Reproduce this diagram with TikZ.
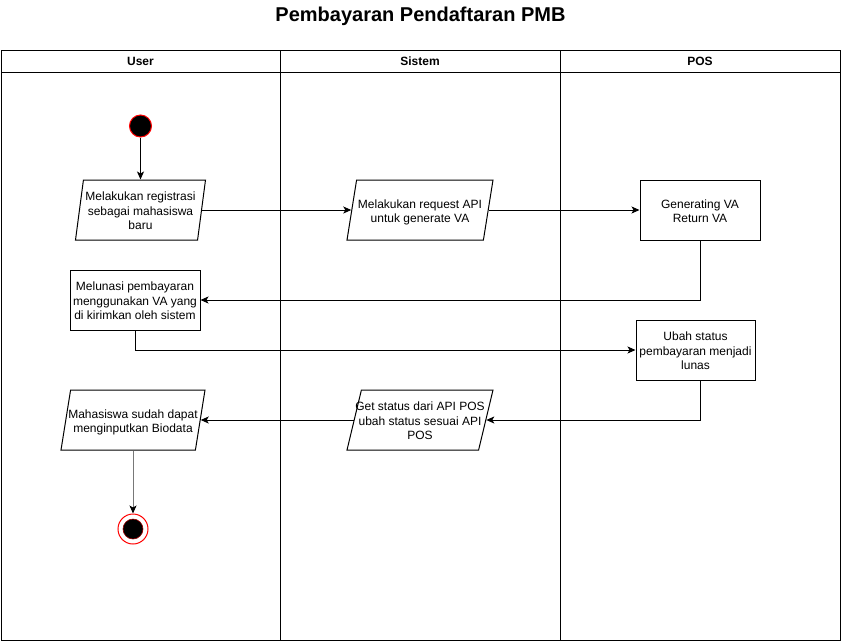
\documentclass[tikz,border=0pt]{standalone}
\usepackage{fontspec}
\setmainfont{Liberation Sans}
\usetikzlibrary{shapes.geometric,arrows.meta}
\definecolor{startred}{RGB}{255,0,0}
\definecolor{linegray}{RGB}{120,120,120}
\newcommand{\ml}[1]{\raisebox{-2.5pt}[\height][\depth]{\makebox[0pt]{\begin{tabular}{@{}c@{}}#1\end{tabular}}}}
\tikzset{
  base/.style={font=\fontsize{12}{14.4}\selectfont, inner sep=0pt, line width=1pt},
  lanehead/.style={draw, line width=1pt, minimum height=22pt, inner sep=0pt, font=\fontsize{12}{14}\selectfont\bfseries},
  lanebody/.style={draw, line width=1pt, minimum height=568pt, inner sep=0pt},
  procbox/.style={base, draw, rectangle, minimum height=60pt},
  iobox/.style={base, draw, trapezium, trapezium stretches body, minimum height=60pt},
  startst/.style={circle, draw=startred, fill=black, line width=1pt, minimum size=22pt, inner sep=0pt},
  endouter/.style={circle, draw=startred, line width=1pt, minimum size=30pt, inner sep=0pt},
  endinner/.style={circle, draw=startred!60!black, fill=black, line width=0.6pt, minimum size=20pt, inner sep=0pt},
  flow/.style={line width=1pt, -{Stealth[length=8pt,width=7pt,inset=2pt]}},
}
\begin{document}
\begin{tikzpicture}[x=1pt,y=-1pt]
\useasboundingbox (0,0) rectangle (841,641);
% title
\node[font=\fontsize{20}{24}\selectfont\bfseries] (title) at (420.5,16) {Pembayaran Pendaftaran PMB};
% lanes
\node[lanehead, minimum width=279pt] (hUser) at (140.5,61) {User};
\node[lanehead, minimum width=280pt] (hSistem) at (420,61) {Sistem};
\node[lanehead, minimum width=280pt] (hPOS) at (700,61) {POS};
\node[lanebody, minimum width=279pt] (lUser) at (140.5,356) {};
\node[lanebody, minimum width=280pt] (lSistem) at (420,356) {};
\node[lanebody, minimum width=280pt] (lPOS) at (700,356) {};
% nodes
\node[startst] (start) at (140.5,126) {};
\node[iobox, minimum width=130pt, trapezium left angle=79.6, trapezium right angle=100.4] (p1) at (140.5,210)
  {\ml{Melakukan registrasi\\sebagai mahasiswa\\baru}};
\node[iobox, minimum width=146pt, trapezium left angle=71.57, trapezium right angle=108.43] (p2) at (420,210)
  {\ml{Melakukan request API\\untuk generate VA}};
\node[procbox, minimum width=120pt] (r1) at (700,210) {\ml{Generating VA\\Return VA}};
\node[procbox, minimum width=130pt] (r2) at (135,300) {\ml{Melunasi pembayaran\\menggunakan VA yang\\di kirimkan oleh sistem}};
\node[procbox, minimum width=119pt] (r3) at (695.5,350) {\ml{Ubah status\\pembayaran menjadi\\lunas}};
\node[iobox, minimum width=146pt, trapezium left angle=71.57, trapezium right angle=108.43] (p3) at (420,420)
  {\ml{Get status dari API POS\\ubah status sesuai API\\POS}};
\node[iobox, minimum width=144pt, trapezium left angle=71.57, trapezium right angle=108.43] (p4) at (133,420)
  {\ml{Mahasiswa sudah dapat\\menginputkan Biodata}};
\node[endouter] (endo) at (133,529) {};
\node[endinner] (endi) at (endo.center) {};
% connectors
\draw[flow] (start.south) -- (start.south |- p1.top side);
\draw[flow] (p1.right side) -- (p2.left side);
\draw[flow] (p2.right side) -- (r1.west);
\draw[flow] (r1.south) |- (r2.east);
\draw[flow] (r2.south) |- (r3.west);
\draw[flow] (r3.south -| r1.south) |- (p3.right side);
\draw[flow] (p3.left side) -- (p4.right side);
\draw[line width=1pt, linegray, -{Stealth[length=8pt,width=7pt,inset=2pt,black]}] (p4.south -| endo) -- (endo.north);
\end{tikzpicture}
\end{document}
